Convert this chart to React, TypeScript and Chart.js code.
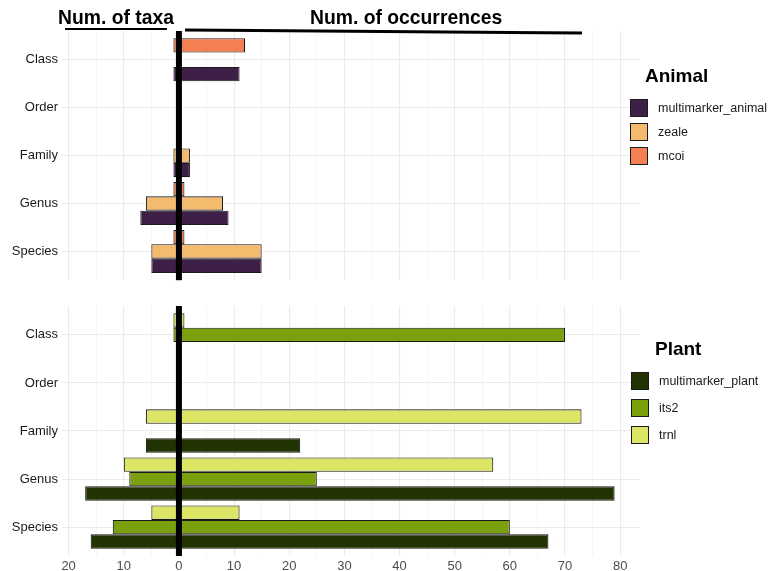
import React, { useEffect, useRef } from 'react';
import { Chart, registerables } from 'chart.js';

Chart.register(...registerables);

// ---------- data ----------
const ranks = ['Class', 'Order', 'Family', 'Genus', 'Species'];
const xTicks = [-20, -15, -10, -5, 0, 5, 10, 15, 20, 25, 30, 35, 40, 45, 50, 55, 60, 65, 70, 75, 80];

// Animal panel (taxa counts drawn to the left of 0, occurrences to the right)
const mcoiTaxa = [1, null, null, 1, 1];
const mcoiOcc = [12, null, null, 1, 1];
const zealeTaxa = [null, null, 1, 6, 5];
const zealeOcc = [null, null, 2, 8, 15];
const mmAnimalTaxa = [1, null, 1, 7, 5];
const mmAnimalOcc = [11, null, 2, 9, 15];

// Plant panel
const trnlTaxa = [1, null, 6, 10, 5];
const trnlOcc = [1, null, 73, 57, 11];
const its2Taxa = [1, null, null, 9, 12];
const its2Occ = [70, null, null, 25, 60];
const mmPlantTaxa = [null, null, 6, 17, 16];
const mmPlantOcc = [null, null, 22, 79, 67];

const X_MIN = -21.2;
const X_MAX = 83.6;

const FONT = '"Liberation Sans", Arial, Helvetica, sans-serif';

type Series = { label: string; color: string; taxa: (number | null)[]; occ: (number | null)[] };

const animalSeries: Series[] = [
  { label: 'mcoi', color: '#F47F51', taxa: mcoiTaxa, occ: mcoiOcc },
  { label: 'zeale', color: '#F4BA6E', taxa: zealeTaxa, occ: zealeOcc },
  { label: 'multimarker_animal', color: '#3E1F48', taxa: mmAnimalTaxa, occ: mmAnimalOcc },
];
const plantSeries: Series[] = [
  { label: 'trnl', color: '#DCE566', taxa: trnlTaxa, occ: trnlOcc },
  { label: 'its2', color: '#7AA00E', taxa: its2Taxa, occ: its2Occ },
  { label: 'multimarker_plant', color: '#203300', taxa: mmPlantTaxa, occ: mmPlantOcc },
];

function toPoints(taxa: (number | null)[], occ: (number | null)[]) {
  const pts: { y: number; x: [number, number] }[] = [];
  for (let i = 0; i < ranks.length; i++) {
    const t = taxa[i];
    const o = occ[i];
    if (t == null || o == null) continue;
    pts.push({ y: i, x: [-t, o] });
  }
  return pts;
}

const zeroLinePlugin = {
  id: 'zeroLine',
  afterDatasetsDraw(chart: any) {
    const { ctx, chartArea, scales } = chart;
    const x = scales.x.getPixelForValue(0);
    ctx.save();
    ctx.fillStyle = '#000000';
    ctx.fillRect(x - 3, chartArea.top, 6, chartArea.bottom - chartArea.top);
    ctx.restore();
  },
};

function Panel(props: {
  series: Series[];
  top: number;
  height: number;
  padTop: number;
  padBottom: number;
  xAxisHeight: number;
  showX: boolean;
}) {
  const ref = useRef<HTMLCanvasElement | null>(null);
  useEffect(() => {
    if (!ref.current) return;
    const chart = new Chart(ref.current, {
      type: 'bar',
      data: {
        datasets: props.series.map((s) => ({
          label: s.label,
          data: toPoints(s.taxa, s.occ) as any,
          backgroundColor: s.color,
          borderColor: '#1A1A1A',
          borderWidth: 1.1,
          borderSkipped: false,
          categoryPercentage: 0.9,
          barPercentage: 1,
        })),
      },
      options: {
        indexAxis: 'y',
        animation: false,
        responsive: false,
        maintainAspectRatio: false,
        layout: { padding: { top: props.padTop, right: 130, bottom: props.padBottom, left: 0 } },
        plugins: { legend: { display: false }, tooltip: { enabled: false } },
        scales: {
          x: {
            type: 'linear',
            min: X_MIN,
            max: X_MAX,
            offset: false,
            border: { display: false },
            grid: {
              offset: false,
              drawTicks: false,
              color: (c: any) => (c.tick && c.tick.value % 10 === 0 ? '#EBEBEB' : '#F4F4F4'),
              lineWidth: (c: any) => (c.tick && c.tick.value % 10 === 0 ? 1.1 : 0.9),
            },
            afterBuildTicks: (s: any) => {
              s.ticks = xTicks.map((v) => ({ value: v }));
            },
            afterFit: (s: any) => {
              s.height = props.xAxisHeight;
            },
            ticks: {
              display: props.showX,
              autoSkip: false,
              maxRotation: 0,
              padding: 3,
              color: '#4D4D4D',
              font: { family: FONT, size: 13 },
              callback: (v: any) => (Number(v) % 10 === 0 ? String(Math.abs(Number(v))) : ''),
            },
          },
          y: {
            type: 'linear',
            min: -0.6,
            max: 4.6,
            reverse: true,
            offset: false,
            border: { display: false },
            grid: { offset: false, drawTicks: false, color: '#EBEBEB', lineWidth: 1.1 },
            afterBuildTicks: (s: any) => {
              s.ticks = ranks.map((_, i) => ({ value: i }));
            },
            afterFit: (s: any) => {
              s.width = 62;
            },
            ticks: {
              autoSkip: false,
              padding: 4,
              color: '#1A1A1A',
              font: { family: FONT, size: 13 },
              callback: (v: any) => ranks[Number(v)] ?? '',
            },
          },
        },
      },
      plugins: [zeroLinePlugin],
    });
    return () => chart.destroy();
  }, []);
  return (
    <canvas
      ref={ref}
      width={770}
      height={props.height}
      style={{ position: 'absolute', left: 0, top: props.top, width: 770, height: props.height, display: 'block' }}
    />
  );
}

function Legend(props: { title: string; items: Series[]; left: number; top: number; titleLeft: number; step: number }) {
  return (
    <div style={{ position: 'absolute', left: 0, top: 0 }}>
      <div
        style={{
          position: 'absolute',
          left: props.titleLeft,
          top: props.top,
          font: `bold 19px ${FONT}`,
          color: '#000',
          whiteSpace: 'nowrap',
          lineHeight: '22px',
        }}
      >
        {props.title}
      </div>
      {props.items.map((it, i) => (
        <div key={it.label} style={{ position: 'absolute', left: props.left, top: props.top + 34 + i * props.step, height: 18 }}>
          <div
            style={{
              position: 'absolute',
              left: 0,
              top: 0,
              width: 16,
              height: 16,
              background: it.color,
              border: '1px solid #1A1A1A',
            }}
          />
          <div
            style={{
              position: 'absolute',
              left: 28,
              top: 1,
              font: `12.5px ${FONT}`,
              color: '#1A1A1A',
              whiteSpace: 'nowrap',
              lineHeight: '16px',
            }}
          >
            {it.label}
          </div>
        </div>
      ))}
    </div>
  );
}

export default function App() {
  useEffect(() => {
    document.body.style.margin = '0';
  }, []);
  return (
    <div style={{ position: 'fixed', left: 0, top: 0, width: 770, height: 571, background: '#fff', overflow: 'hidden' }}>
      <Panel series={animalSeries} top={0} height={292} padTop={31} padBottom={10} xAxisHeight={0} showX={false} />
      <Panel series={plantSeries} top={292} height={279} padTop={14} padBottom={0} xAxisHeight={15} showX={true} />
      <div style={{ position: 'absolute', left: 58, top: 5, font: `bold 21px ${FONT}`, color: '#000', whiteSpace: 'nowrap', lineHeight: '24px', transform: 'scaleX(0.92)', transformOrigin: 'left center' }}>
        Num. of taxa
      </div>
      <div style={{ position: 'absolute', left: 310, top: 5, font: `bold 21px ${FONT}`, color: '#000', whiteSpace: 'nowrap', lineHeight: '24px', transform: 'scaleX(0.92)', transformOrigin: 'left center' }}>
        Num. of occurrences
      </div>
      <svg width={770} height={571} style={{ position: 'absolute', left: 0, top: 0, pointerEvents: 'none' }}>
        <line x1={65} y1={29} x2={167} y2={29} stroke="#000" strokeWidth={2.2} />
        <line x1={185} y1={30} x2={582} y2={33} stroke="#000" strokeWidth={3} />
      </svg>
      <Legend
        title="Animal"
        titleLeft={645}
        left={630}
        top={65}
        step={24}
        items={[animalSeries[2], animalSeries[1], animalSeries[0]]}
      />
      <Legend
        title="Plant"
        titleLeft={655}
        left={631}
        top={338}
        step={27}
        items={[plantSeries[2], plantSeries[1], plantSeries[0]]}
      />
    </div>
  );
}
